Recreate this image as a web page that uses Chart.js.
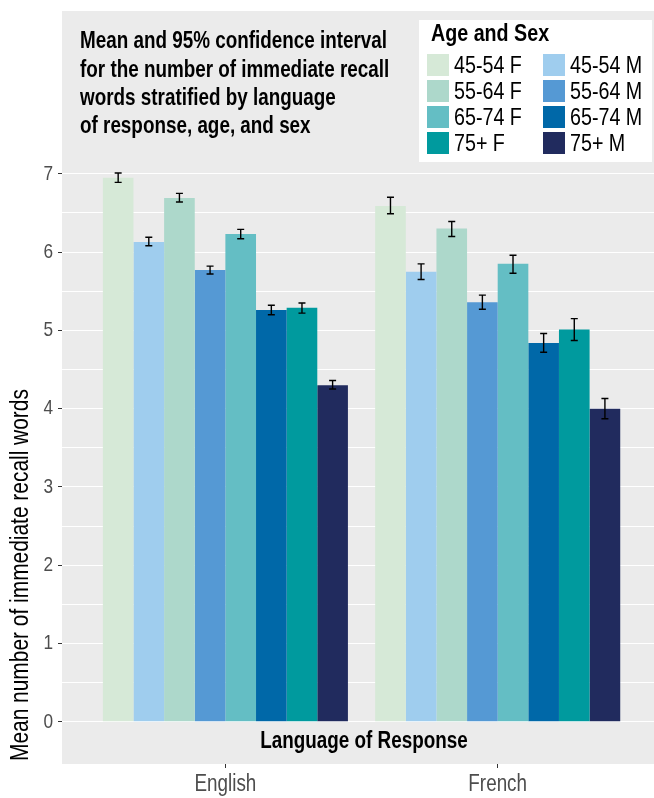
<!DOCTYPE html>
<html>
<head>
<meta charset="utf-8">
<script src="https://cdn.jsdelivr.net/npm/chart.js@4.4.1/dist/chart.umd.min.js"></script>
<style>
  html, body { margin: 0; padding: 0; background: #ffffff; overflow: hidden; }
  canvas { display: block; }
</style>
</head>
<body>
<canvas id="chart" width="654" height="798"></canvas>
<script>
// ---- data ----
const languages = ['English', 'French'];
const groups = ['45-54 F', '45-54 M', '55-64 F', '55-64 M', '65-74 F', '65-74 M', '75+ F', '75+ M'];
const groupColors = ['#d6e9d7', '#9fcdee', '#add8cb', '#5599d4', '#64bec4', '#0068a8', '#009a9e', '#212b5e'];

// mean recall words per group (order follows `groups`)
const englishMean = [6.95, 6.13, 6.69, 5.77, 6.23, 5.26, 5.29, 4.30];
const englishLow  = [6.89, 6.08, 6.64, 5.72, 6.17, 5.20, 5.22, 4.25];
const englishHigh = [7.01, 6.19, 6.75, 5.82, 6.29, 5.32, 5.35, 4.36];

const frenchMean  = [6.59, 5.75, 6.30, 5.36, 5.85, 4.84, 5.01, 4.00];
const frenchLow   = [6.49, 5.65, 6.20, 5.27, 5.73, 4.72, 4.87, 3.87];
const frenchHigh  = [6.70, 5.85, 6.39, 5.45, 5.96, 4.96, 5.15, 4.13];

const yTickValues = [0, 1, 2, 3, 4, 5, 6, 7];

const titleLines = [
  'Mean and 95% confidence interval',
  'for the number of immediate recall',
  'words stratified by language',
  'of response, age, and sex'
];
const legendTitle = 'Age and Sex';
const xAxisTitle = 'Language of Response';
const yAxisTitle = 'Mean number of immediate recall words';

// ---- styling ----
const FAMILY = '"Liberation Sans", Arial, sans-serif';
const NARROW = 0.82;          // horizontal squeeze for a condensed look
const PANEL_BG = '#ebebeb';

const meansByLang = [englishMean, frenchMean];
const lowByLang = [englishLow, frenchLow];
const highByLang = [englishHigh, frenchHigh];

const datasets = groups.map((g, gi) => ({
  label: g,
  backgroundColor: groupColors[gi],
  borderWidth: 0,
  data: languages.map((lang, li) => ({ x: li + 1, y: meansByLang[li][gi] })),
  ciLow: languages.map((lang, li) => lowByLang[li][gi]),
  ciHigh: languages.map((lang, li) => highByLang[li][gi])
}));

// condensed text helper
function narrowText(ctx, text, x, y, font, color, align, rotation) {
  ctx.save();
  ctx.translate(x, y);
  if (rotation) ctx.rotate(rotation);
  ctx.scale(NARROW, 1);
  ctx.font = font;
  ctx.fillStyle = color;
  ctx.textAlign = align || 'left';
  ctx.textBaseline = 'middle';
  ctx.fillText(text, 0, 0);
  ctx.restore();
}

// grey panel behind the plot
const panelPlugin = {
  id: 'panel',
  beforeDraw(chart) {
    const { ctx, chartArea: a } = chart;
    ctx.save();
    ctx.fillStyle = PANEL_BG;
    ctx.fillRect(a.left, a.top, a.right - a.left, a.bottom - a.top);
    ctx.restore();
  }
};

// 95% CI whiskers on each bar
const errorBarPlugin = {
  id: 'errorBars',
  afterDatasetsDraw(chart) {
    const { ctx } = chart;
    const yScale = chart.scales.y;
    ctx.save();
    ctx.strokeStyle = '#000000';
    ctx.lineWidth = 1.4;
    chart.data.datasets.forEach((ds, di) => {
      const meta = chart.getDatasetMeta(di);
      meta.data.forEach((bar, i) => {
        const x = bar.x;
        const yLo = yScale.getPixelForValue(ds.ciLow[i]);
        const yHi = yScale.getPixelForValue(ds.ciHigh[i]);
        const half = 3.5;
        ctx.beginPath();
        ctx.moveTo(x, yLo); ctx.lineTo(x, yHi);
        ctx.moveTo(x - half, yLo); ctx.lineTo(x + half, yLo);
        ctx.moveTo(x - half, yHi); ctx.lineTo(x + half, yHi);
        ctx.stroke();
      });
    });
    ctx.restore();
  }
};

// axis labels, title block, legend box and axis titles
const annotationPlugin = {
  id: 'annotations',
  afterDraw(chart) {
    const { ctx, scales } = chart;

    // y tick labels
    yTickValues.forEach(v => {
      narrowText(ctx, String(v), 53, scales.y.getPixelForValue(v), '21px ' + FAMILY, '#4d4d4d', 'right');
    });
    // x tick labels
    languages.forEach((lang, i) => {
      narrowText(ctx, lang, scales.x.getPixelForValue(i + 1), 785, '23px ' + FAMILY, '#4d4d4d', 'center');
    });

    // title
    titleLines.forEach((line, i) => {
      narrowText(ctx, line, 80, 42 + 28.3 * i, 'bold 23px ' + FAMILY, '#000000', 'left');
    });

    // legend
    const lx = 419, ly = 20, lw = 233, lh = 142;
    ctx.save();
    ctx.fillStyle = '#ffffff';
    ctx.fillRect(lx, ly, lw, lh);
    ctx.restore();
    narrowText(ctx, legendTitle, 431, 34, 'bold 24px ' + FAMILY, '#000000', 'left');
    chart.data.datasets.forEach((ds, di) => {
      const col = di % 2;          // F in the left column, M in the right
      const row = Math.floor(di / 2);
      const sx = col === 0 ? 427 : 543;
      const sy = 54 + 26 * row;
      ctx.save();
      ctx.fillStyle = ds.backgroundColor;
      ctx.fillRect(sx, sy, 22, 22);
      ctx.restore();
      narrowText(ctx, ds.label, sx + 27, sy + 12, '24px ' + FAMILY, '#000000', 'left');
    });

    // axis titles
    narrowText(ctx, xAxisTitle, 364, 742, 'bold 23px ' + FAMILY, '#000000', 'center');
    narrowText(ctx, yAxisTitle, 21, 761, '25.5px ' + FAMILY, '#000000', 'left', -Math.PI / 2);
  }
};

new Chart(document.getElementById('chart'), {
  type: 'bar',
  data: { datasets },
  options: {
    responsive: false,
    animation: false,
    layout: { padding: { top: 11, right: 0, bottom: 0, left: 0 } },
    datasets: { bar: { categoryPercentage: 0.9, barPercentage: 1.0 } },
    plugins: { legend: { display: false }, tooltip: { enabled: false }, title: { display: false } },
    scales: {
      x: {
        type: 'linear',
        min: 0.4,
        max: 2.574,
        offset: false,
        afterBuildTicks: s => { s.ticks = languages.map((l, i) => ({ value: i + 1 })); },
        afterFit: s => { s.height = 34; },
        ticks: { display: false, autoSkip: false, maxRotation: 0 },
        grid: { offset: false, drawOnChartArea: false, drawTicks: true, tickLength: 4, tickColor: '#333333', color: '#333333' },
        border: { display: false }
      },
      y: {
        min: -0.54,
        max: 9.08,
        afterBuildTicks: s => {
          const t = [];
          yTickValues.forEach((v, i) => {
            t.push({ value: v });
            if (i < yTickValues.length - 1) t.push({ value: (v + yTickValues[i + 1]) / 2 });
          });
          s.ticks = t;
        },
        afterFit: s => { s.width = 62; },
        ticks: { display: false, autoSkip: false },
        grid: {
          color: '#ffffff',
          lineWidth: 1,
          tickLength: 4,
          tickColor: c => (c.tick && yTickValues.includes(c.tick.value) ? '#333333' : 'rgba(0,0,0,0)')
        },
        border: { display: false },
        title: { display: false }
      }
    }
  },
  plugins: [panelPlugin, errorBarPlugin, annotationPlugin]
});
</script>
</body>
</html>
